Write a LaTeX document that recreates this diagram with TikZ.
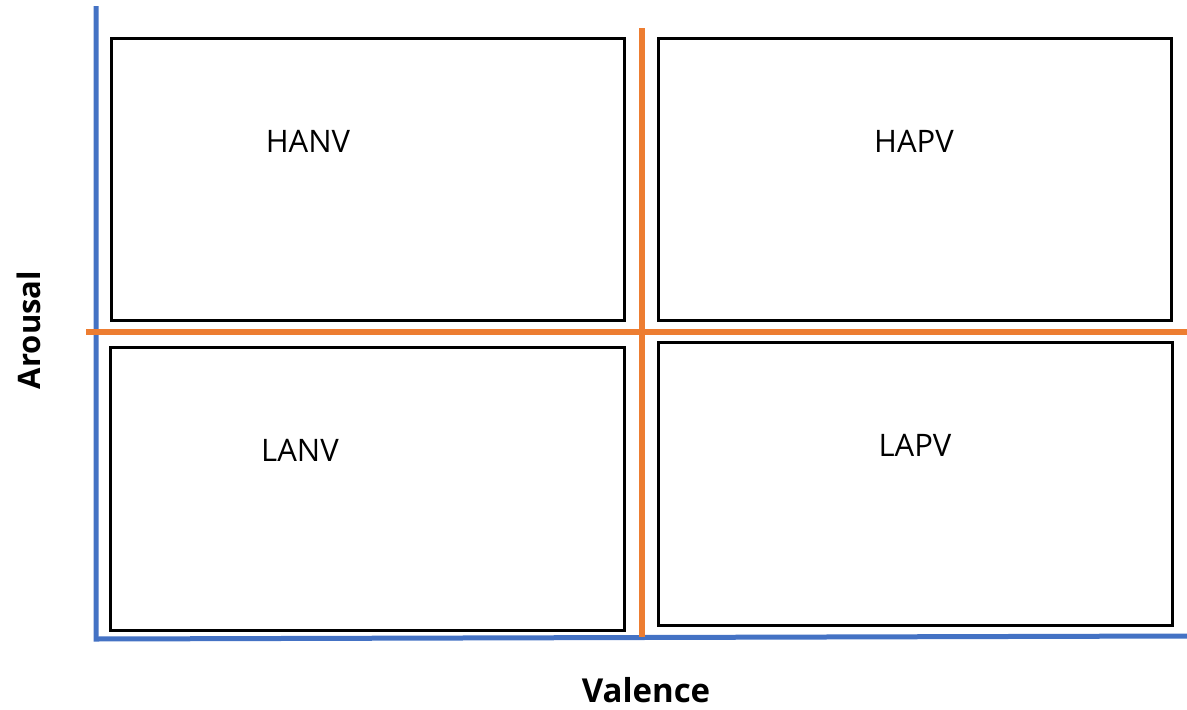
\documentclass[tikz,border=0pt]{standalone}
\usepackage{fontspec}
\setmainfont{Open Sans}
\definecolor{axisblue}{HTML}{4472C4}
\definecolor{axisorange}{HTML}{ED7D31}
\begin{document}
\begin{tikzpicture}[x=1pt,y=-1pt,
  quad/.style={draw=black,line width=3pt},
  qlabel/.style={font=\fontsize{31}{33}\selectfont,inner sep=0pt},
  axlabel/.style={font=\bfseries\fontsize{31}{33}\selectfont,inner sep=0pt},
  blueaxis/.style={draw=axisblue,line width=5pt},
  orangeaxis/.style={draw=axisorange,line width=6pt}]
\useasboundingbox (0,0) rectangle (1187,710);
% quadrant boxes
\draw[quad] (111,38) rectangle (624,320);
\draw[quad] (658,38) rectangle (1171,320);
\draw[quad] (110,347) rectangle (624,630);
\draw[quad] (658,342) rectangle (1172,625);
% axes
\coordinate (ytop) at (96,6);
\coordinate (origin) at (96,639);
\coordinate (xend) at (1187,636);
\draw[blueaxis] (ytop) -- (origin) -- (xend);
\coordinate (otop) at (642,28);
\coordinate (obot) at (642,637);
\coordinate (oleft) at (86,332);
\coordinate (oright) at (1187,332);
\draw[orangeaxis] (otop) -- (obot);
\draw[orangeaxis] (oleft) -- (oright);
% labels
\node[qlabel] (hanv) at (308,141) {HANV};
\node[qlabel] (hapv) at (914,141) {HAPV};
\node[qlabel] (lanv) at (300,450) {LANV};
\node[qlabel] (lapv) at (915,445) {LAPV};
\node[axlabel,font=\bfseries\fontsize{33}{35}\selectfont] (val) at (646,690) {Valence};
\node[axlabel,rotate=90] (aro) at (29,330) {Arousal};
\end{tikzpicture}
\end{document}
